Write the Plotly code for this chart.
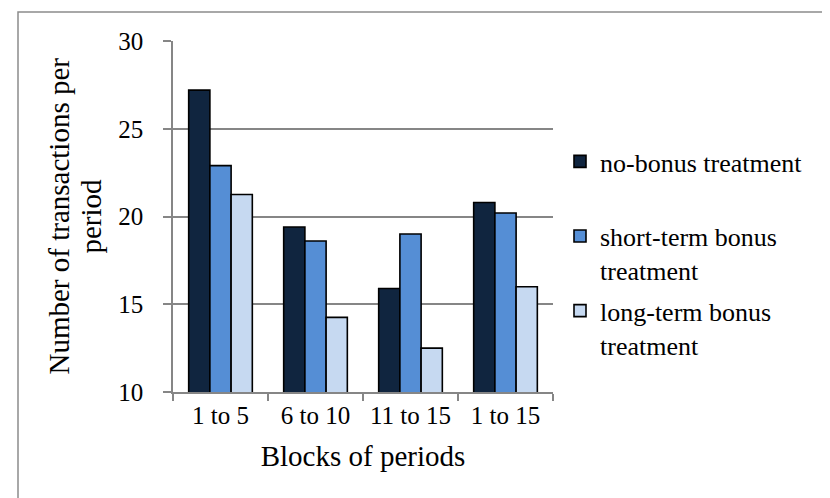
import plotly.graph_objects as go

categories = ["1 to 5", "6 to 10", "11 to 15", "1 to 15"]
no_bonus = [27.2, 19.4, 15.9, 20.8]
short_term = [22.9, 18.6, 19.0, 20.2]
long_term = [21.25, 14.25, 12.5, 16.0]
series_names = ["no-bonus treatment<br> ", "short-term bonus<br>treatment", "long-term bonus<br>treatment"]
colors = ["#10253F", "#558ED5", "#C6D9F1"]
y_ticks = [10, 15, 20, 25, 30]
y_title_lines = ["Number of transactions per", "period"]
x_title = "Blocks of periods"

FONT = "Liberation Serif, Times New Roman, serif"

fig = go.Figure()
for i, (name, vals) in enumerate(zip(series_names, [no_bonus, short_term, long_term])):
    fig.add_trace(go.Bar(
        x=categories, y=vals, name=name, legendgroup=f"g{i}",
        marker=dict(color=colors[i], line=dict(color="#000000", width=1.6)),
    ))

L, R, T, B = 165, 285, 33, 114
W, H = 830, 498
pw, ph = W - L - R, H - T - B

def px_x(x):
    return (x - L) / pw

def px_y(y):
    return (H - B - y) / ph

annotations = []
for xpix, line in zip([50, 82], y_title_lines):
    annotations.append(dict(
        text=line, xref="paper", yref="paper", x=px_x(xpix), y=0.5,
        xanchor="center", yanchor="middle", textangle=-90, showarrow=False,
        font=dict(family=FONT, size=29, color="#000000"),
    ))

fig.update_layout(
    width=W, height=H,
    margin=dict(l=L, r=R, t=T, b=B, autoexpand=False),
    paper_bgcolor="white", plot_bgcolor="white",
    barmode="group", bargap=0.33, bargroupgap=0,
    font=dict(family=FONT, color="#000000", size=24),
    legend=dict(
        x=px_x(552), xanchor="left", y=px_y(130), yanchor="top",
        font=dict(family=FONT, size=26, color="#000000"),
        tracegroupgap=4, valign="top", bgcolor="rgba(0,0,0,0)",
    ),
    xaxis=dict(
        type="category", showline=True, linecolor="#868686", linewidth=1.5,
        ticks="outside", tickson="boundaries", ticklen=7, tickcolor="#868686", tickwidth=1.5,
        tickfont=dict(family=FONT, size=25), ticklabelstandoff=0,
        title=dict(text=x_title, font=dict(family=FONT, size=29), standoff=18),
        showgrid=False,
    ),
    yaxis=dict(
        range=[10, 30], tickvals=y_ticks, showline=True, linecolor="#868686", linewidth=1.5,
        ticks="outside", ticklen=8, tickcolor="#868686", tickwidth=1.5,
        tickfont=dict(family=FONT, size=25), ticklabelstandoff=15,
        showgrid=True, gridcolor="#868686", gridwidth=1.5, zeroline=False,
    ),
    annotations=annotations,
    shapes=[dict(
        type="rect", xref="paper", yref="paper",
        x0=px_x(10), x1=px_x(840), y0=px_y(510), y1=px_y(4),
        line=dict(color="#8c8c8c", width=1.5), fillcolor="rgba(0,0,0,0)", layer="below",
    )],
)

fig.write_html("out.html")
